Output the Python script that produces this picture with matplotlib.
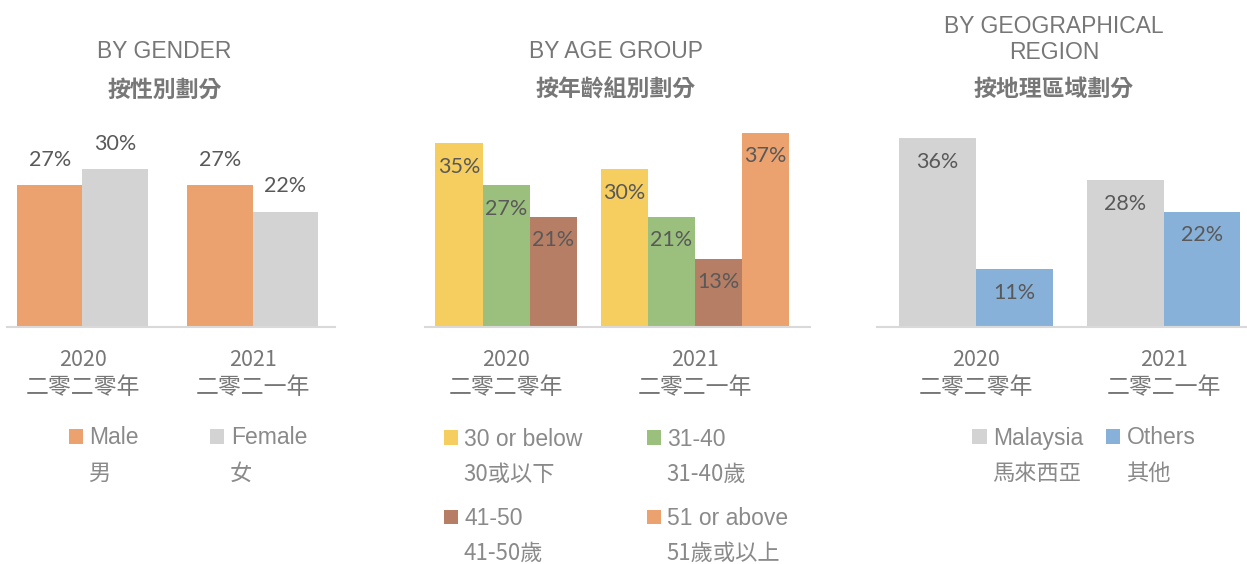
import numpy as np
import matplotlib.pyplot as plt

plt.rcParams['font.family'] = ['Liberation Sans', 'Noto Sans CJK TC', 'DejaVu Sans']

# data
years = ["2020", "2021"]
years_zh = ["二零二零年", "二零二一年"]

gender_labels = ["Male", "Female"]
gender_labels_zh = ["男", "女"]
male = [27, 27]
female = [30, 22]

age_labels = ["30 or below", "31-40", "41-50", "51 or above"]
age_labels_zh = ["30或以下", "31-40歲", "41-50歲", "51歲或以上"]
age_30_below = [35, 30]
age_31_40 = [27, 21]
age_41_50 = [21, 13]
age_51_above = [np.nan, 37]   # no 51+ bar shown for 2020

region_labels = ["Malaysia", "Others"]
region_labels_zh = ["馬來西亞", "其他"]
malaysia = [36, 28]
others = [11, 22]

# colours
ORANGE = "#EBA26F"
GREY = "#D3D3D3"
YELLOW = "#F6CE5F"
GREEN = "#9BC07D"
BROWN = "#B67E65"
BLUE = "#88B1D9"
LABEL_C = "#595959"
TITLE_C = "#777777"
LEGEND_C = "#8a8a8a"

W, H = 1247, 564
fig = plt.figure(figsize=(W / 100, H / 100), dpi=100)


def fx(px):
    return px / W


def fy(py):
    return 1 - py / H


BASE_Y = 327
TOP_Y = 100
YMAX = (BASE_Y - TOP_Y) / 5.25
CJK = ['Noto Sans CJK TC']


def draw_panel(x0, x1, xlim, series, colors, width, outside):
    ax = fig.add_axes([fx(x0), fy(BASE_Y), fx(x1 - x0), (BASE_Y - TOP_Y) / H])
    vals = np.array(series, dtype=float)
    n_groups = vals.shape[1]
    handles = []
    for si, c in enumerate(colors):
        xs, hs = [], []
        for g in range(n_groups):
            if np.isnan(vals[si, g]):
                continue
            present = list(np.where(~np.isnan(vals[:, g]))[0])
            k = present.index(si)
            xs.append(g + (k - (len(present) - 1) / 2) * width)
            hs.append(vals[si, g])
        bars = ax.bar(xs, hs, width, color=c, zorder=2)
        handles.append(bars)
        for rect, v in zip(bars, hs):
            off = 18 if outside else -17
            ax.annotate(f"{v:.0f}%", (rect.get_x() + rect.get_width() / 2, v),
                        xytext=(0, off), textcoords='offset points',
                        ha='center', va='center', fontsize=15.5,
                        family='Lato', color=LABEL_C)

    # category labels under the axis
    for g in range(n_groups):
        ax.annotate(years[g], (g, 0), xycoords=('data', 'axes fraction'),
                    xytext=(0, -24), textcoords='offset points',
                    ha='center', va='center', fontsize=15.5, family=CJK,
                    color=TITLE_C)
        ax.annotate(years_zh[g], (g, 0), xycoords=('data', 'axes fraction'),
                    xytext=(0, -43.5), textcoords='offset points',
                    ha='center', va='center', fontsize=16.5, family=CJK,
                    color=TITLE_C)

    ax.set_xlim(*xlim)
    ax.set_ylim(0, YMAX)
    for s in ['top', 'right', 'left']:
        ax.spines[s].set_visible(False)
    ax.spines['bottom'].set_color('#D9D9D9')
    ax.spines['bottom'].set_linewidth(1.5)
    ax.set_xticks([])
    ax.set_yticks([])
    return ax, handles


ax1, h1 = draw_panel(7, 335, (-0.444, 1.485), [male, female],
                     [ORANGE, GREY], 0.385, True)
ax2, h2 = draw_panel(425, 810, (-0.429, 1.608),
                     [age_30_below, age_31_40, age_41_50, age_51_above],
                     [YELLOW, GREEN, BROWN, ORANGE], 0.249, False)
ax3, h3 = draw_panel(877, 1247, (-0.528, 1.445), [malaysia, others],
                     [GREY, BLUE], 0.41, False)

# titles
fig.text(fx(164.5), fy(51.5), "BY GENDER", ha='center', va='center',
         fontsize=16.5, color=TITLE_C)
fig.text(fx(164.5), fy(90), "按性別劃分", ha='center', va='center',
         fontsize=16.5, family=CJK, fontweight='bold', color=TITLE_C)
fig.text(fx(616), fy(51.5), "BY AGE GROUP", ha='center', va='center',
         fontsize=16.5, color=TITLE_C)
fig.text(fx(616), fy(90), "按年齡組別劃分", ha='center', va='center',
         fontsize=16.5, family=CJK, fontweight='bold', color=TITLE_C)
fig.text(fx(1054), fy(39.5), "BY GEOGRAPHICAL\nREGION", ha='center',
         va='center', fontsize=16.5, color=TITLE_C, linespacing=1.22)
fig.text(fx(1054), fy(89), "按地理區域劃分", ha='center', va='center',
         fontsize=16.5, family=CJK, fontweight='bold', color=TITLE_C)

# legends (english line in the legend, chinese line placed under it)
leg_kw = dict(frameon=False, fontsize=16.5, handlelength=0.62,
              handleheight=0.62, handletextpad=0.28, borderpad=0,
              labelcolor=LEGEND_C)
leg1 = fig.legend(h1, gender_labels, loc='center', ncol=2,
                  bbox_to_anchor=(fx(188), fy(438)), columnspacing=3.1,
                  **leg_kw)
order = [0, 2, 1, 3]
leg2 = fig.legend([h2[i] for i in order], [age_labels[i] for i in order],
                  loc='center', ncol=2, bbox_to_anchor=(fx(616), fy(479)),
                  columnspacing=2.8, labelspacing=2.45, **leg_kw)
leg3 = fig.legend(h3, region_labels, loc='center', ncol=2,
                  bbox_to_anchor=(fx(1084), fy(438)), columnspacing=1.0,
                  **leg_kw)

fig.canvas.draw()
for leg, zh in [(leg1, gender_labels_zh),
                (leg2, [age_labels_zh[i] for i in order]),
                (leg3, region_labels_zh)]:
    for t, z in zip(leg.get_texts(), zh):
        bb = t.get_window_extent()
        yc = (bb.y0 + bb.y1) / 2 - 35
        fig.text(bb.x0 / W - 1 / W, yc / H, z, ha='left', va='center',
                 fontsize=16, family=CJK, fontweight='light', color=LEGEND_C)

fig.savefig("out.png", dpi=100)
